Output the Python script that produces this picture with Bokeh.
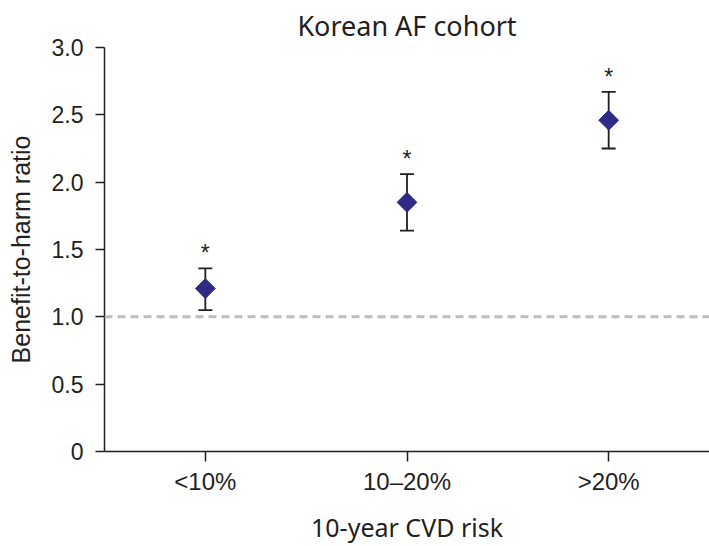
import numpy as np
from bokeh.plotting import figure
from bokeh.models import ColumnDataSource, FactorRange, Range1d, Span, Whisker, TeeHead, FixedTicker
from bokeh.core.properties import value
from bokeh.embed import file_html
from bokeh.resources import INLINE

categories = ["<10%", "10–20%", ">20%"]
ratio = [1.21, 1.85, 2.46]
lower = [1.05, 1.64, 2.25]
upper = [1.36, 2.06, 2.67]
y_ticks = [0, 0.5, 1.0, 1.5, 2.0, 2.5, 3.0]
y_tick_labels = ["0", "0.5", "1.0", "1.5", "2.0", "2.5", "3.0"]
reference_line = 1.0
title_text = "Korean AF cohort"

src = ColumnDataSource(dict(cat=categories, ratio=ratio, lower=lower, upper=upper,
                            star=["*"] * len(categories)))

TXT = "#231F20"
p = figure(width=709, height=546, x_range=FactorRange(*categories), y_range=Range1d(0, 3.0),
           output_backend="svg", toolbar_location=None,
           min_border_left=104, min_border_right=0, min_border_top=46, min_border_bottom=93)
p.title.text = title_text
p.title.align = "center"
p.title.text_font = "Noto Sans"
p.title.text_font_style = "normal"
p.title.text_font_size = "27px"
p.title.text_color = TXT
p.title.standoff = 8

p.grid.visible = False
p.outline_line_color = None

for ax in (p.xaxis[0], p.yaxis[0]):
    ax.axis_line_color = "#231F20"
    ax.axis_line_width = 1.5
    ax.major_tick_line_color = "#231F20"
    ax.major_tick_line_width = 1.5
    ax.minor_tick_line_color = None
    ax.major_tick_in = 0
    ax.major_label_text_font = "Liberation Sans"
    ax.major_label_text_color = TXT
    ax.axis_label_text_color = TXT
    ax.axis_label_text_font_style = "normal"

p.yaxis.ticker = FixedTicker(ticks=y_ticks)
p.yaxis.major_label_overrides = {t: l for t, l in zip(y_ticks, y_tick_labels)}
p.yaxis.major_label_text_font_size = "23px"
p.yaxis.major_tick_out = 9
p.yaxis.major_label_standoff = 12
p.yaxis.axis_label = "Benefit-to-harm ratio"
p.yaxis.axis_label_text_font = "Liberation Sans"
p.yaxis.axis_label_text_font_size = "25px"
p.yaxis.axis_label_standoff = 14

p.xaxis.major_label_text_font_size = "24px"
p.xaxis.major_tick_out = 10
p.xaxis.major_label_standoff = 6
p.xaxis.axis_label = "10-year CVD risk"
p.xaxis.axis_label_text_font = "Noto Sans"
p.xaxis.axis_label_text_font_size = "25px"
p.xaxis.axis_label_standoff = 12

p.add_layout(Span(location=reference_line, dimension="width", line_color="#BDBDBD",
                  line_width=3, line_dash="8 5"))

p.add_layout(Whisker(base="cat", upper="upper", lower="lower", source=src,
                     line_color="#231F20", line_width=1.8,
                     upper_head=TeeHead(size=14, line_color="#231F20", line_width=1.8),
                     lower_head=TeeHead(size=14, line_color="#231F20", line_width=1.8)))

p.scatter(x="cat", y="ratio", source=src, marker="square", angle=np.pi / 4, size=14,
          fill_color="#2F2A86", line_color="#2F2A86")

p.text(x="cat", y="upper", text="star", source=src, text_align="center",
       text_baseline="middle", y_offset=-15, text_font=value("Liberation Sans"),
       text_font_size="23px", text_color=TXT)

open("out.html", "w").write(file_html(p, INLINE))
